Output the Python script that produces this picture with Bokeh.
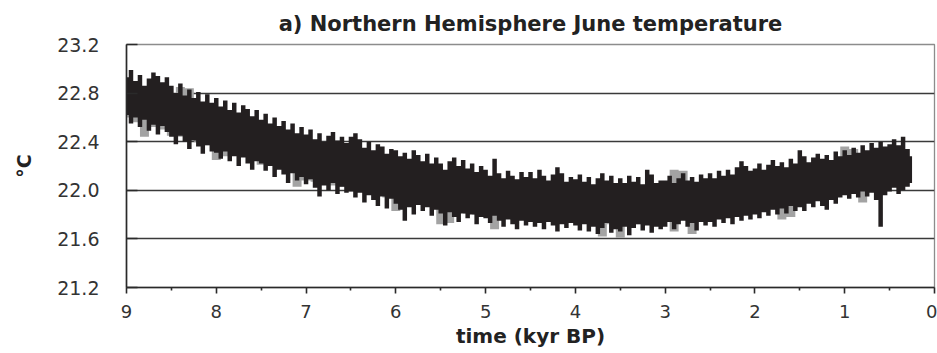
from bokeh.plotting import figure
from bokeh.models import Range1d, FixedTicker, PrintfTickFormatter, ColumnDataSource
from bokeh.embed import file_html
from bokeh.resources import INLINE

title_text = "a) Northern Hemisphere June temperature"
x_label = "time (kyr BP)"
y_label = "°C"
x_ticks = [0, 1, 2, 3, 4, 5, 6, 7, 8, 9]
x_minor_ticks = [0.5, 1.5, 2.5, 3.5, 4.5, 5.5, 6.5, 7.5, 8.5]
y_ticks = [21.2, 21.6, 22.0, 22.4, 22.8, 23.2]
grid_levels = [21.6, 22.0, 22.4, 22.8]

# black series: upper / lower extent of the dense record, every 0.05 kyr from 9.00 to 0.25 kyr BP
black_upper = [
    22.93, 22.99, 22.90, 22.95, 22.86, 22.92, 22.97, 22.94, 22.89, 22.93,
    22.86, 22.80, 22.88, 22.78, 22.83, 22.76, 22.81, 22.73, 22.79, 22.72,
    22.76, 22.69, 22.74, 22.66, 22.72, 22.64, 22.70, 22.67, 22.61, 22.66,
    22.58, 22.63, 22.55, 22.60, 22.53, 22.57, 22.50, 22.55, 22.47, 22.52,
    22.46, 22.50, 22.42, 22.47, 22.40, 22.45, 22.48, 22.41, 22.44, 22.39,
    22.44, 22.47, 22.42, 22.35, 22.40, 22.33, 22.38, 22.36, 22.30, 22.34,
    22.33, 22.28, 22.31, 22.26, 22.33, 22.29, 22.24, 22.30, 22.22, 22.27,
    22.22, 22.17, 22.24, 22.27, 22.20, 22.25, 22.18, 22.22, 22.15, 22.20,
    22.17, 22.12, 22.26, 22.14, 22.10, 22.16, 22.12, 22.09, 22.15, 22.11,
    22.15, 22.10, 22.17, 22.12, 22.08, 22.13, 22.19, 22.14, 22.07, 22.11,
    22.09, 22.13, 22.07, 22.11, 22.05, 22.10, 22.14, 22.08, 22.12, 22.06,
    22.10, 22.06, 22.12, 22.07, 22.11, 22.05, 22.17, 22.13, 22.06, 22.08,
    22.08, 22.12, 22.06, 22.10, 22.14, 22.08, 22.11, 22.07, 22.13, 22.10,
    22.14, 22.10, 22.16, 22.12, 22.17, 22.13, 22.19, 22.24, 22.20, 22.16,
    22.18, 22.22, 22.17, 22.21, 22.25, 22.20, 22.23, 22.19, 22.26, 22.22,
    22.33, 22.28, 22.23, 22.27, 22.30, 22.26, 22.29, 22.25, 22.32, 22.28,
    22.33, 22.29, 22.35, 22.31, 22.37, 22.33, 22.39, 22.35, 22.40, 22.36,
    22.38, 22.42, 22.37, 22.44, 22.34, 22.28,
]
black_lower = [
    22.62, 22.55, 22.60, 22.52, 22.58, 22.49, 22.54, 22.46, 22.53, 22.48,
    22.44, 22.38, 22.45, 22.40, 22.34, 22.41, 22.36, 22.30, 22.37, 22.32,
    22.31, 22.26, 22.32, 22.24, 22.28, 22.20, 22.27, 22.22, 22.17, 22.24,
    22.22, 22.16, 22.20, 22.11, 22.17, 22.13, 22.06, 22.14, 22.08, 22.11,
    22.05, 22.09, 22.02, 21.95, 22.04, 22.00, 22.06, 21.97, 22.03, 21.98,
    21.99, 21.94, 21.98, 21.90, 21.96, 21.92, 21.87, 21.95, 21.85, 21.93,
    21.89, 21.84, 21.75, 21.86, 21.80, 21.88, 21.83, 21.86, 21.79, 21.84,
    21.81, 21.71, 21.82, 21.78, 21.74, 21.81, 21.77, 21.80, 21.72, 21.78,
    21.77, 21.73, 21.79, 21.75, 21.70, 21.76, 21.72, 21.68, 21.75, 21.71,
    21.74, 21.70, 21.73, 21.68, 21.74, 21.71, 21.66, 21.72, 21.69, 21.73,
    21.71, 21.67, 21.72, 21.66, 21.70, 21.64, 21.69, 21.73, 21.65, 21.68,
    21.66, 21.70, 21.63, 21.69, 21.72, 21.67, 21.71, 21.65, 21.70, 21.68,
    21.70, 21.74, 21.68, 21.72, 21.75, 21.70, 21.73, 21.67, 21.74, 21.71,
    21.74, 21.70, 21.76, 21.73, 21.77, 21.72, 21.78, 21.75, 21.79, 21.76,
    21.80, 21.77, 21.82, 21.79, 21.84, 21.80, 21.85, 21.81, 21.87, 21.83,
    21.86, 21.83, 21.89, 21.86, 21.91, 21.87, 21.84, 21.92, 21.89, 21.94,
    21.96, 21.93, 21.97, 21.94, 21.99, 21.95, 21.98, 21.92, 21.70, 21.96,
    21.99, 22.02, 21.97, 22.00, 22.03, 22.06,
]

# gray series: upper / lower extent, every 0.1 kyr from 9.0 to 0.3 kyr BP
gray_upper = [
    22.87, 22.85, 22.83, 22.81, 22.79, 22.77, 22.85, 22.84, 22.72, 22.70,
    22.64, 22.62, 22.60, 22.58, 22.55, 22.52, 22.50, 22.48, 22.45, 22.42,
    22.38, 22.37, 22.36, 22.35, 22.34, 22.34, 22.32, 22.30, 22.28, 22.25,
    22.23, 22.22, 22.20, 22.18, 22.16, 22.14, 22.13, 22.12, 22.10, 22.08,
    22.07, 22.07, 22.06, 22.06, 22.05, 22.05, 22.04, 22.04, 22.04, 22.03,
    22.03, 22.03, 22.02, 22.02, 22.02, 22.02, 22.02, 22.03, 22.03, 22.03,
    22.03, 22.17, 22.16, 22.05, 22.06, 22.06, 22.07, 22.08, 22.10, 22.11,
    22.13, 22.14, 22.15, 22.16, 22.17, 22.19, 22.20, 22.21, 22.22, 22.23,
    22.36, 22.34, 22.28, 22.29, 22.30, 22.31, 22.32, 22.30,
]
gray_lower = [
    22.60, 22.56, 22.44, 22.52, 22.50, 22.45, 22.44, 22.42, 22.40, 22.37,
    22.25, 22.28, 22.31, 22.30, 22.27, 22.21, 22.20, 22.18, 22.16, 22.03,
    22.08, 22.07, 22.06, 22.04, 22.03, 22.00, 21.99, 21.98, 21.96, 21.94,
    21.83, 21.92, 21.90, 21.89, 21.87, 21.72, 21.73, 21.82, 21.81, 21.80,
    21.79, 21.68, 21.78, 21.77, 21.77, 21.76, 21.76, 21.75, 21.74, 21.74,
    21.73, 21.73, 21.72, 21.62, 21.72, 21.61, 21.72, 21.72, 21.73, 21.74,
    21.75, 21.66, 21.76, 21.64, 21.77, 21.78, 21.79, 21.80, 21.81, 21.82,
    21.84, 21.85, 21.87, 21.76, 21.78, 21.90, 21.91, 21.93, 21.95, 21.97,
    21.99, 22.00, 21.90, 22.02, 22.03, 22.03, 22.04, 22.05,
]

black_time = [round(9.0 - 0.05 * i, 2) for i in range(len(black_upper))]
gray_time = [round(9.0 - 0.1 * i, 2) for i in range(len(gray_upper))]

FONT = "DejaVu Sans"
INK = "#231f20"

p = figure(width=937, height=353, output_backend="svg", toolbar_location=None,
           x_range=Range1d(9, 0), y_range=Range1d(21.2, 23.2),
           min_border_left=126, min_border_right=3, min_border_top=43,
           min_border_bottom=66, background_fill_color="white",
           border_fill_color="white")

p.title.text = title_text
p.title.align = "center"
p.title.text_font = FONT
p.title.text_font_size = "21px"
p.title.text_font_style = "bold"
p.title.text_color = "#222222"
p.title.text_line_height = 0.75
p.title.standoff = 18
p.title.offset = -13

p.outline_line_color = "#8c8c8c"
p.outline_line_width = 1.3

p.xgrid.visible = False
p.ygrid.ticker = FixedTicker(ticks=grid_levels)
p.ygrid.grid_line_color = "#3a3a3a"
p.ygrid.grid_line_width = 1.4

gray_src = ColumnDataSource(dict(t=gray_time, lo=gray_lower, hi=gray_upper))
black_src = ColumnDataSource(dict(t=black_time, lo=black_lower, hi=black_upper))
p.varea_step(x="t", y1="lo", y2="hi", step_mode="center", source=gray_src,
             fill_color="#a3a3a3")
p.varea_step(x="t", y1="lo", y2="hi", step_mode="center", source=black_src,
             fill_color=INK)

xa = p.xaxis[0]
xa.ticker = FixedTicker(ticks=x_ticks, minor_ticks=x_minor_ticks)
xa.axis_label = x_label
xa.axis_line_color = "#2a2a2a"
xa.axis_line_width = 1.6
xa.major_tick_line_color = "#2a2a2a"
xa.major_tick_line_width = 1.6
xa.minor_tick_line_color = "#2a2a2a"
xa.minor_tick_line_width = 1.6
xa.major_tick_out = 6
xa.major_tick_in = 0
xa.minor_tick_out = 3
xa.minor_tick_in = 0
xa.major_label_standoff = 11
xa.major_label_text_font = FONT
xa.major_label_text_font_size = "18px"
xa.major_label_text_color = "#333333"
xa.axis_label_standoff = 3
xa.axis_label_text_font = FONT
xa.axis_label_text_font_size = "20px"
xa.axis_label_text_font_style = "bold"
xa.axis_label_text_color = "#222222"

ya = p.yaxis[0]
ya.ticker = FixedTicker(ticks=y_ticks)
ya.formatter = PrintfTickFormatter(format="%.1f")
ya.axis_label = y_label
ya.axis_line_color = "#2a2a2a"
ya.axis_line_width = 1.6
ya.major_tick_line_color = "#2a2a2a"
ya.major_tick_line_width = 1.6
ya.major_tick_in = 11
ya.major_tick_out = 0
ya.minor_tick_in = 0
ya.minor_tick_out = 0
ya.major_label_standoff = 27
ya.major_label_text_font = FONT
ya.major_label_text_font_size = "19px"
ya.major_label_text_color = "#333333"
ya.axis_label_standoff = 19
ya.axis_label_text_font = FONT
ya.axis_label_text_font_size = "19px"
ya.axis_label_text_font_style = "bold"
ya.axis_label_text_color = "#222222"

open("out.html", "w").write(file_html(p, INLINE))
